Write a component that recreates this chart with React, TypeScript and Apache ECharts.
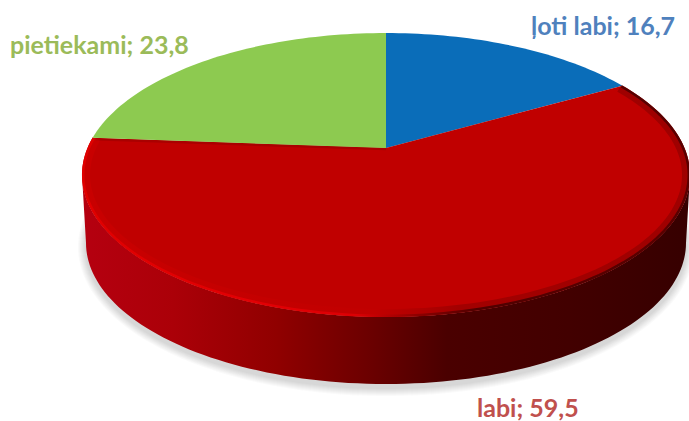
import React, { useEffect, useRef } from "react";
import * as echarts from "echarts";

const categories = ["ļoti labi", "labi", "pietiekami"];
const values = [16.7, 59.5, 23.8];

const WIDTH = 689;
const HEIGHT = 421;
const topFace = { cx: 386, cy: 175, rx: 304, ry: 142 };
const bottomFace = { cx: 386, cy: 243, rx: 300, ry: 141 };
const tilt = 0.19; // shift of the pie's apex caused by perspective
const sliceColors = ["#0a6db9", "#c00000", "#8dca50"];
const labelColors = ["#4f81bd", "#c0504d", "#9bbb59"];
const labelSpots = [
  { x: 531, y: 37 },
  { x: 477, y: 419 },
  { x: 10, y: 56 },
];
const labelFont = 'bold 25px Lato, "Noto Sans", sans-serif';
const shadowSteps = [8, 7, 6, 5, 4, 3, 2, 1];

const total = values.reduce((a, b) => a + b, 0);
const startFraction = (i: number) =>
  values.slice(0, i).reduce((a, b) => a + b, 0) / total;

// Part of the rim that faces the viewer: between the two widest points of the ellipse.
const frontStart = Math.acos(-tilt) / (Math.PI * 2);
const frontEnd = 1 - frontStart;

type Face = { cx: number; cy: number; rx: number; ry: number };

const inset = (f: Face, d: number): Face => ({
  cx: f.cx,
  cy: f.cy,
  rx: f.rx - d,
  ry: f.ry - d,
});

// Maps a point of the unit disk onto the tilted ellipse of a face.
const project = (x: number, y: number, f: Face): number[] => {
  const k = 1 + tilt * y;
  const px = (x * Math.sqrt(1 - tilt * tilt)) / k;
  const py = (y + tilt) / k;
  return [f.cx + px * f.rx, f.cy - py * f.ry];
};

const rimPoints = (from: number, to: number, f: Face): number[][] => {
  const n = Math.max(8, Math.ceil((to - from) * 240));
  const pts: number[][] = [];
  for (let i = 0; i <= n; i++) {
    const a = (from + ((to - from) * i) / n) * Math.PI * 2;
    pts.push(project(Math.sin(a), Math.cos(a), f));
  }
  return pts;
};

const globalGradient = (stops: [number, string][]) =>
  new echarts.graphic.LinearGradient(
    82,
    0,
    690,
    0,
    stops.map(([offset, color]) => ({ offset, color })),
    true,
  );

const renderSide = (params: any) => {
  const i = params.dataIndex;
  const from = Math.max(startFraction(i), frontStart);
  const to = Math.min(startFraction(i + 1), frontEnd);
  if (to <= from) return null;
  const upper = rimPoints(from, to, topFace);
  const lower = rimPoints(from, to, bottomFace).reverse();
  return {
    type: "polygon",
    shape: { points: upper.concat(lower) },
    style: {
      fill: globalGradient([
        [0, "#b50010"],
        [0.15, "#ab0008"],
        [0.32, "#900000"],
        [0.47, "#6c0000"],
        [0.6, "#4a0000"],
        [0.8, "#420000"],
        [1, "#360000"],
      ]),
    },
  };
};

const renderTop = (params: any) => {
  const i = params.dataIndex;
  const from = startFraction(i);
  const to = startFraction(i + 1);
  const rim = rimPoints(from, to, topFace);
  const apex = project(0, 0, topFace);
  const children: any[] = [
    {
      type: "polygon",
      shape: { points: [apex, ...rim] },
      style: { fill: sliceColors[i] },
    },
  ];
  if (categories[i] === "labi") {
    const seamEnd = rim[rim.length - 1];
    children.push(
      {
        type: "polyline",
        shape: {
          points: [
            [apex[0], apex[1] + 1],
            [seamEnd[0] + 3, seamEnd[1] + 1.5],
          ],
        },
        style: { fill: "none", lineWidth: 2.5, stroke: "#aa0000" },
      },
      {
        type: "polyline",
        shape: { points: rimPoints(from, to, inset(topFace, 4)) },
        style: {
          fill: "none",
          lineWidth: 8,
          opacity: 0.35,
          stroke: globalGradient([
            [0, "#d80000"],
            [0.3, "#cc0000"],
            [0.48, "#c40000"],
            [0.62, "#6a0000"],
            [1, "#600000"],
          ]),
        },
      },
      {
        type: "polyline",
        shape: { points: rimPoints(from, to, inset(topFace, 1.2)) },
        style: {
          fill: "none",
          lineWidth: 2.5,
          stroke: globalGradient([
            [0, "#e00000"],
            [0.3, "#e20004"],
            [0.45, "#dc0004"],
            [0.55, "#900000"],
            [0.65, "#500000"],
            [1, "#5a0000"],
          ]),
        },
      },
    );
  }
  const spot = labelSpots[i];
  children.push({
    type: "text",
    style: {
      text: `${categories[i]}; ${String(values[i]).replace(".", ",")}`,
      x: spot.x,
      y: spot.y,
      fill: labelColors[i],
      font: labelFont,
      textVerticalAlign: "bottom",
    },
  });
  return { type: "group", children };
};

export default function App() {
  const ref = useRef<HTMLDivElement>(null);
  useEffect(() => {
    const chart = echarts.init(ref.current!, undefined, { renderer: "svg" });
    const data = categories.map((name, i) => ({ name, value: values[i] }));
    chart.setOption({
      animation: false,
      backgroundColor: "#ffffff",
      graphic: shadowSteps.map((step) => ({
        type: "ellipse",
        z: 0,
        silent: true,
        shape: {
          cx: bottomFace.cx,
          cy: bottomFace.cy + 4,
          rx: bottomFace.rx + step,
          ry: bottomFace.ry + step,
        },
        style: { fill: "rgba(60,60,60,0.028)" },
      })),
      series: [
        {
          type: "custom",
          name: "side",
          coordinateSystem: "none",
          z: 2,
          silent: true,
          renderItem: renderSide,
          data,
        },
        {
          type: "custom",
          name: "top",
          coordinateSystem: "none",
          z: 3,
          silent: true,
          renderItem: renderTop,
          data,
        },
      ],
    });
    return () => chart.dispose();
  }, []);
  return (
    <div
      ref={ref}
      style={{ position: "absolute", left: 0, top: 0, width: WIDTH, height: HEIGHT }}
    />
  );
}
